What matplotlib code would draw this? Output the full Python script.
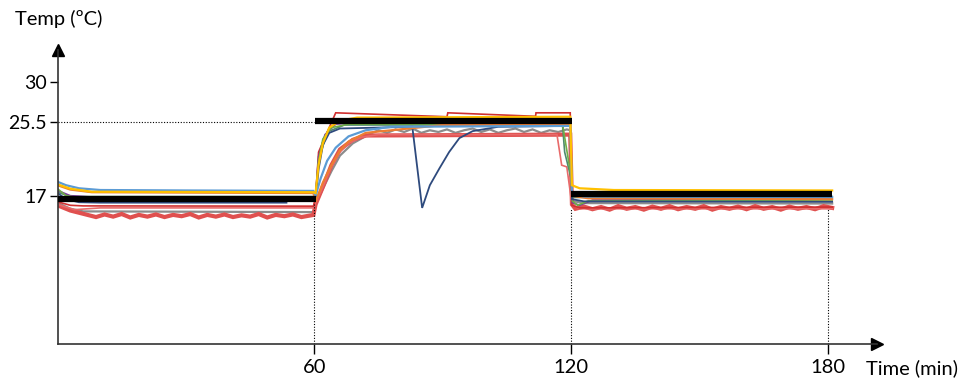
import numpy as np
import matplotlib
matplotlib.use('Agg')
import matplotlib.pyplot as plt

plt.rcParams['font.family'] = ['Lato', 'DejaVu Sans']

nan = np.nan

# set point (thick black), three steps
sp_t = [0, 60.3, nan, 60.1, 120.1, nan, 120.0, 181]
sp_v = [16.65, 16.65, nan, 25.55, 25.55, nan, 17.25, 17.25]

# sensor traces, time in min / temperature in degC
blue_t = [0, 2, 5, 10, 30, 59.8, 60.3, 61.5, 63, 65, 68, 72, 78, 119.8, 120.2, 123, 181]
blue_v = [18.6, 18.2, 17.85, 17.65, 17.6, 17.55, 17.0, 19.0, 21.0, 22.5, 23.8, 24.5, 24.9, 25.0, 17.2, 16.9, 16.85]

orange_t = [0, 3, 8, 59.8, 60.3, 62, 64, 66, 68, 72, 80, 90, 119.8, 120.2, 124, 181]
orange_v = [18.2, 17.7, 17.4, 17.3, 16.3, 18.5, 20.5, 22.2, 23.2, 24.2, 24.6, 25.1, 25.2, 17.0, 16.7, 16.6]

yellow_t = [0, 3, 8, 59.8, 60.3, 61, 62, 63.5, 66, 70, 119.8, 120.2, 122, 130, 181]
yellow_v = [18.3, 17.8, 17.45, 17.4, 17.3, 20.5, 23.0, 24.8, 25.6, 25.95, 26.05, 18.2, 17.85, 17.65, 17.6]

navy_t = [0, 2, 5, 10, 53.5, nan, 60.3, 61, 62, 63.5, 66, 82.9, 85.2, 87, 89.2, 91.5, 93.9, 97, 103,
          119.8, 120.2, 123, 181]
navy_v = [17.3, 16.6, 16.25, 16.2, 16.2, nan, 16.5, 20.0, 22.8, 24.2, 24.7, 24.9, 15.6, 18.2, 20.1, 22.0,
          23.6, 24.4, 24.9, 25.0, 16.6, 16.35, 16.3]

red_t = [0, 3, 6, 59.8, 60.3, 61, 65, 91, 91.2, 111.7, 111.8, 119.8, 120.2, 122, 181]
red_v = [16.3, 15.9, 15.83, 15.8, 16.8, 22.0, 26.5, 26.05, 26.5, 26.1, 26.5, 26.5, 15.9, 15.6, 15.7]

salmon_t = [0, 4, 10, 59.8, 60.3, 62, 64, 66, 68, 71, 75, 116.7, 117.8, 119, 120.2, 122, 181]
salmon_v = [16.0, 15.4, 15.6, 15.6, 16.2, 18.0, 20.3, 22.0, 23.0, 23.7, 24.0, 24.0, 20.5, 20.3, 16.0, 15.5, 15.5]

green_t = [0, 2, 4, 59.8, 60.3, 61, 62, 64, 68, 118, 120, 120.3, 121.5, 124, 181]
green_v = [17.8, 17.0, 16.85, 16.8, 16.8, 21.0, 23.5, 24.8, 25.2, 25.2, 19.2, 16.4, 15.9, 16.4, 16.5]

purple_t = [0, 3, 8, 59.8, 60.3, 61, 62.5, 65, 70, 119.8, 120.3, 122, 125, 181]
purple_v = [17.6, 17.0, 16.85, 16.8, 16.9, 21.5, 24.0, 25.2, 25.4, 25.4, 16.2, 15.9, 16.5, 16.6]

teal_t = [0, 3, 59.8, 60.3, 61, 63, 67, 118, 118.5, 120, 120.3, 181]
teal_v = [17.4, 16.9, 16.9, 17.0, 21.0, 24.3, 25.1, 25.1, 22.0, 19.0, 16.8, 16.9]

gray_t = [0, 3, 6, 59.8, 60.3, 62, 64, 66, 69, 73, 75, 77, 79, 81, 83, 85, 87, 89, 91, 93, 95, 97, 99,
          101, 103, 105, 107, 109, 111, 113, 115, 117, 119, 119.8, 120.2, 123, 181]
gray_v = [16.2, 15.5, 15.2, 15.12, 16.0, 17.8, 19.8, 21.6, 23.0, 24.1, 24.5, 24.2, 24.6, 24.3, 24.7,
          24.2, 24.5, 24.3, 24.6, 24.2, 24.5, 24.7, 24.3, 24.6, 24.2, 24.5, 24.7, 24.3, 24.6, 24.2, 24.5,
          24.3, 24.6, 24.5, 16.4, 16.15, 16.1]

jag_t = [0, 3, 7, 9, 11, 13, 15, 17, 19, 21, 23, 25, 27, 29, 31, 33, 35, 37, 39, 41, 43, 45, 47, 49, 51,
         53, 55, 57, 59.8, 60.3, 62, 64, 66, 69, 72, 119.8, 120.2, 121, 123, 125, 127, 129, 131, 133, 135,
         137, 139, 141, 143, 145, 147, 149, 151, 153, 155, 157, 159, 161, 163, 165, 167, 169, 171, 173,
         175, 177, 179, 181]
jag_v = [15.9, 15.3, 14.8, 14.55, 14.85, 14.6, 14.9, 14.5, 14.8, 14.6, 14.85, 14.55, 14.8, 14.65, 14.9,
         14.5, 14.8, 14.6, 14.85, 14.55, 14.75, 14.6, 14.9, 14.5, 14.8, 14.65, 14.85, 14.55, 14.8, 16.0,
         18.0, 20.5, 22.3, 23.4, 23.9, 24.0, 16.0, 15.5, 15.75, 15.45, 15.7, 15.4, 15.8, 15.5, 15.7, 15.4,
         15.75, 15.5, 15.8, 15.45, 15.7, 15.5, 15.8, 15.4, 15.7, 15.5, 15.75, 15.45, 15.8, 15.5, 15.7,
         15.4, 15.75, 15.5, 15.7, 15.45, 15.8, 15.6]

traces = [
    (gray_t, gray_v, '#8C8C8C', 1.6),
    (jag_t, jag_v, '#E0504F', 3.0),
    (salmon_t, salmon_v, '#E86A6A', 1.2),
    (red_t, red_v, '#D03030', 1.2),
    (teal_t, teal_v, '#4E8A6E', 1.2),
    (purple_t, purple_v, '#7A3A9A', 1.2),
    (green_t, green_v, '#70AD47', 1.2),
    (navy_t, navy_v, '#2E4A7D', 1.3),
    (orange_t, orange_v, '#ED7D31', 1.6),
    (blue_t, blue_v, '#5B9BD5', 1.6),
    (yellow_t, yellow_v, '#FFC000', 1.6),
]

guide_t = [60, 120, 180]
guide_top = [16.2, 15.5, 15.5]
level_mid = 25.5

fig = plt.figure(figsize=(9.76, 3.78), dpi=100)
ax = fig.add_axes([57.5/976, 34/378, 819.6/976, 294/378])

for t, v, c, w in traces:
    ax.plot(t, v, color=c, lw=w, solid_joinstyle='miter')
ax.plot(sp_t, sp_v, color='black', lw=4.5, solid_capstyle='butt', zorder=5)

dots = (0, (1, 1.5))
for gt, top in zip(guide_t, guide_top):
    ax.plot([gt, gt], [0, top], color='black', lw=0.8, ls=dots)
ax.plot([0, 60], [level_mid, level_mid], color='black', lw=0.8, ls=dots)

ax.set_xlim(0, 191.5)
ax.set_ylim(0, 33.7)
ax.set_xticks(guide_t)
ax.set_xticklabels(['60', '120', '180'])
ax.set_yticks([17, 25.5, 30])
ax.set_yticklabels(['17', '25.5', '30'])
ax.tick_params(axis='y', direction='out', length=6, width=1, pad=1.5, labelsize=14)
ax.tick_params(axis='x', direction='out', length=7, width=1, pad=3.5, labelsize=14.5)

for s in ['top', 'right']:
    ax.spines[s].set_visible(False)
for s in ['left', 'bottom']:
    ax.spines[s].set_color('#333333')
    ax.spines[s].set_linewidth(1.2)

# arrow heads on the axes
ax.plot(1, 0, '>', color='black', ms=9, transform=ax.transAxes, clip_on=False)
ax.plot(0, 1, '^', color='black', ms=9, transform=ax.transAxes, clip_on=False)

fig.text(15/976, 1 - 19/378, 'Temp (ºC)', fontsize=14.5, ha='left', va='center')
fig.text(866/976, 1 - 368/378, 'Time (min)', fontsize=14.5, ha='left', va='center')

fig.savefig('out.png', dpi=100)
